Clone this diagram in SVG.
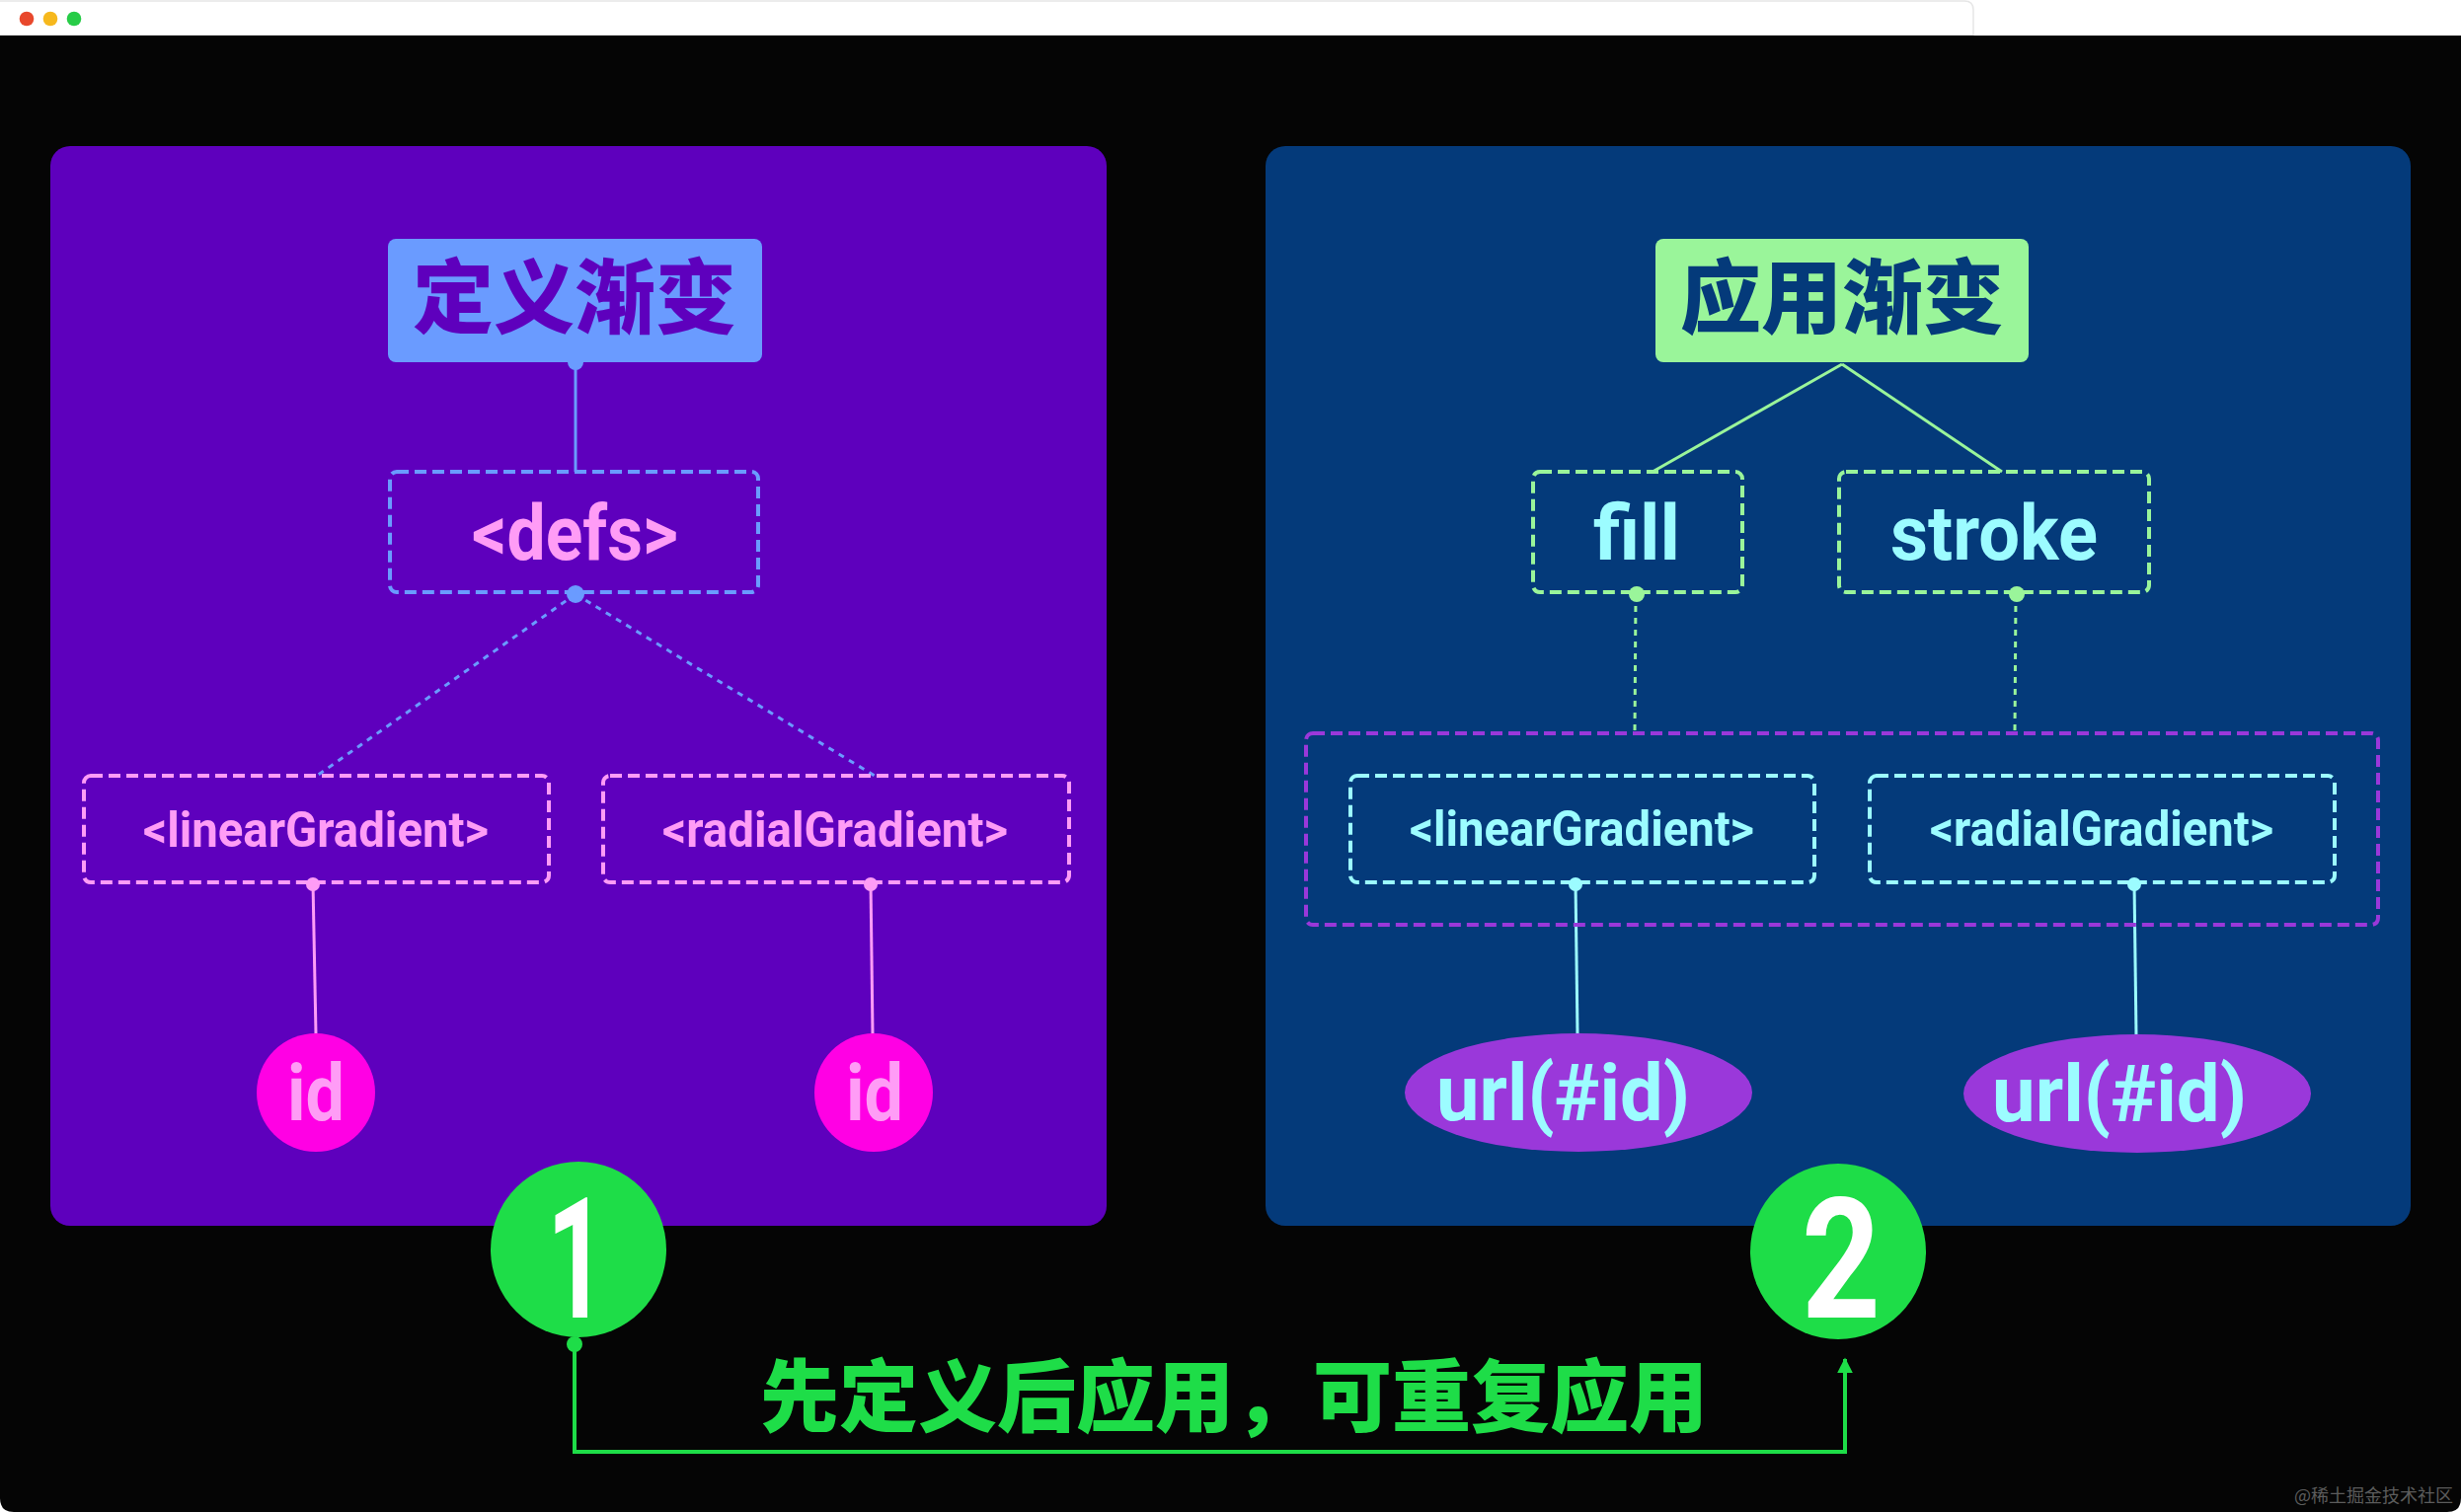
<svg xmlns="http://www.w3.org/2000/svg" width="2493" height="1532" viewBox="0 0 2493 1532">
<defs>
<style>
.cjk{font-family:"Noto Sans CJK SC","Noto Sans",sans-serif;font-weight:900;text-anchor:middle}
.lat{font-family:Roboto,"Liberation Sans",sans-serif;font-weight:700;text-anchor:middle}
.dash{fill:none;stroke-width:4;stroke-dasharray:12 6}
.pink{stroke:#ff9cf6}
.blue{stroke:#6a9bff}
.green{stroke:#9af59a}
.cyan{stroke:#9cfcff}
.purp{stroke:#9a38da}
.ln{fill:none;stroke-width:3}
.dot{stroke-dasharray:6 6}
</style>
<marker id="arr" viewBox="0 0 10 10" refX="9" refY="5" markerWidth="16" markerHeight="16" markerUnits="userSpaceOnUse" orient="auto">
<path d="M0,0 L10,5 L0,10 z" fill="#1edd48"/>
</marker>
</defs>

<!-- window -->
<rect x="0" y="0" width="2493" height="1532" fill="#ffffff"/>
<path d="M0,36 H2493 V1518 Q2493,1532 2479,1532 H14 Q0,1532 0,1518 Z" fill="#050505"/>
<path d="M0,1 H1990 Q1999,1 1999,10 V36" fill="none" stroke="#e6e6e6" stroke-width="1.5"/>
<line x1="0" y1="35.5" x2="1999" y2="35.5" stroke="#e0e0e0" stroke-width="1"/>
<circle cx="27" cy="19" r="7.3" fill="#e8482c"/>
<circle cx="51" cy="19" r="7.3" fill="#f6b81d"/>
<circle cx="75" cy="19" r="7.3" fill="#27cc47"/>

<!-- panels -->
<rect id="panel-left" x="51" y="148" width="1070" height="1094" rx="20" fill="#5e00bd"/>
<rect id="panel-right" x="1282" y="148" width="1160" height="1094" rx="20" fill="#043a7a"/>

<!-- connectors -->
<g id="connectors">
  <line class="ln blue" x1="583" y1="367" x2="583" y2="478"/>
  <line class="ln blue dot" x1="583" y1="602" x2="321" y2="786"/>
  <line class="ln blue dot" x1="583" y1="602" x2="886" y2="786"/>
  <line class="ln pink" stroke-width="2.5" x1="317" y1="894" x2="320" y2="1048"/>
  <line class="ln pink" stroke-width="2.5" x1="882" y1="894" x2="884" y2="1048"/>
  <circle cx="583" cy="367" r="8" fill="#6a9bff"/>
  <circle cx="583" cy="602" r="9" fill="#6a9bff"/>
  <circle cx="317" cy="896" r="7" fill="#ff9cf6"/>
  <circle cx="882" cy="896" r="7" fill="#ff9cf6"/>

  <line class="ln green" x1="1866" y1="369" x2="1674" y2="478"/>
  <line class="ln green" x1="1866" y1="369" x2="2028" y2="478"/>
  <line class="ln green dot" stroke-width="2.5" x1="1657" y1="602" x2="1656" y2="743"/>
  <line class="ln green dot" stroke-width="2.5" x1="2042" y1="602" x2="2041" y2="743"/>
  <circle cx="1658" cy="602" r="8" fill="#9af59a"/>
  <circle cx="2043" cy="602" r="8" fill="#9af59a"/>
  <line class="ln cyan" stroke-width="2.5" x1="1596" y1="894" x2="1598" y2="1048"/>
  <line class="ln cyan" stroke-width="2.5" x1="2162" y1="894" x2="2164" y2="1050"/>
  <circle cx="1596" cy="896" r="7" fill="#9cfcff"/>
  <circle cx="2162" cy="896" r="7" fill="#9cfcff"/>

  <path d="M582,1362 V1471 H1869 V1377" fill="none" stroke="#1edd48" stroke-width="4" marker-end="url(#arr)"/>
  <circle cx="582" cy="1362" r="8" fill="#1edd48"/>
</g>

<!-- left nodes -->
<g id="node-define">
  <rect x="393" y="242" width="379" height="125" rx="8" fill="#6a9bff"/>
  <text class="cjk" x="582" y="331" font-size="82" fill="#5e00bd">定义渐变</text>
</g>
<g id="node-defs">
  <rect class="dash blue" x="395" y="478" width="373" height="122" rx="7"/>
  <text class="lat" x="582.5" y="567" font-size="78" fill="#ff9cf6" textLength="209" lengthAdjust="spacingAndGlyphs">&lt;defs&gt;</text>
</g>
<g id="node-left-linear">
  <rect class="dash pink" x="85" y="786" width="471" height="108" rx="7"/>
  <text class="lat" x="320" y="858" font-size="50" fill="#ff9cf6" textLength="350" lengthAdjust="spacingAndGlyphs">&lt;linearGradient&gt;</text>
</g>
<g id="node-left-radial">
  <rect class="dash pink" x="611" y="786" width="472" height="108" rx="7"/>
  <text class="lat" x="846" y="858" font-size="50" fill="#ff9cf6" textLength="350" lengthAdjust="spacingAndGlyphs">&lt;radialGradient&gt;</text>
</g>
<g id="node-id-1">
  <circle cx="320" cy="1107" r="60" fill="#ff00e4"/>
  <text class="lat" x="320" y="1135" font-size="80" fill="#ff9cf6" textLength="58" lengthAdjust="spacingAndGlyphs">id</text>
</g>
<g id="node-id-2">
  <circle cx="885" cy="1107" r="60" fill="#ff00e4"/>
  <text class="lat" x="886" y="1135" font-size="80" fill="#ff9cf6" textLength="58" lengthAdjust="spacingAndGlyphs">id</text>
</g>

<!-- right nodes -->
<g id="node-apply">
  <rect x="1677" y="242" width="378" height="125" rx="8" fill="#9af59a"/>
  <text class="cjk" x="1866" y="331" font-size="82" fill="#043a7a">应用渐变</text>
</g>
<g id="node-fill">
  <rect class="dash green" x="1553" y="478" width="212" height="122" rx="7"/>
  <text class="lat" x="1658" y="567" font-size="78" fill="#9cfcff" textLength="88" lengthAdjust="spacingAndGlyphs">fill</text>
</g>
<g id="node-stroke">
  <rect class="dash green" x="1863" y="478" width="314" height="122" rx="7"/>
  <text class="lat" x="2020" y="567" font-size="78" fill="#9cfcff" textLength="210" lengthAdjust="spacingAndGlyphs">stroke</text>
</g>
<g id="node-group">
  <rect class="dash purp" x="1323" y="743" width="1086" height="194" rx="7"/>
</g>
<g id="node-right-linear">
  <rect class="dash cyan" x="1368" y="786" width="470" height="108" rx="7"/>
  <text class="lat" x="1602.5" y="857" font-size="50" fill="#9cfcff" textLength="349" lengthAdjust="spacingAndGlyphs">&lt;linearGradient&gt;</text>
</g>
<g id="node-right-radial">
  <rect class="dash cyan" x="1894" y="786" width="471" height="108" rx="7"/>
  <text class="lat" x="2129" y="857" font-size="50" fill="#9cfcff" textLength="348" lengthAdjust="spacingAndGlyphs">&lt;radialGradient&gt;</text>
</g>
<g id="node-url-1">
  <ellipse cx="1599" cy="1107" rx="176" ry="60" fill="#9a38da"/>
  <text class="lat" x="1583.5" y="1135" font-size="80" fill="#9cfcff" textLength="257" lengthAdjust="spacingAndGlyphs">url(#id)</text>
</g>
<g id="node-url-2">
  <ellipse cx="2165" cy="1108" rx="176" ry="60" fill="#9a38da"/>
  <text class="lat" x="2147" y="1136" font-size="80" fill="#9cfcff" textLength="258" lengthAdjust="spacingAndGlyphs">url(#id)</text>
</g>

<!-- step badges -->
<g id="node-step-1">
  <circle cx="586" cy="1266" r="89" fill="#1edd48"/>
  <text class="lat" x="584" y="1335" font-size="170" fill="#ffffff" textLength="60" lengthAdjust="spacingAndGlyphs">1</text>
</g>
<g id="node-step-2">
  <circle cx="1862" cy="1268" r="89" fill="#1edd48"/>
  <text class="lat" x="1865" y="1335" font-size="170" fill="#ffffff" textLength="80" lengthAdjust="spacingAndGlyphs">2</text>
</g>

<g id="label-bottom">
  <text class="cjk" x="1250" y="1444" font-size="80" fill="#1edd48">先定义后应用，可重复应用</text>
</g>

<text x="2485" y="1522" font-family="'Noto Sans CJK SC','Noto Sans',sans-serif" font-size="18" fill="#5c5c5c" text-anchor="end">@稀土掘金技术社区</text>
</svg>
